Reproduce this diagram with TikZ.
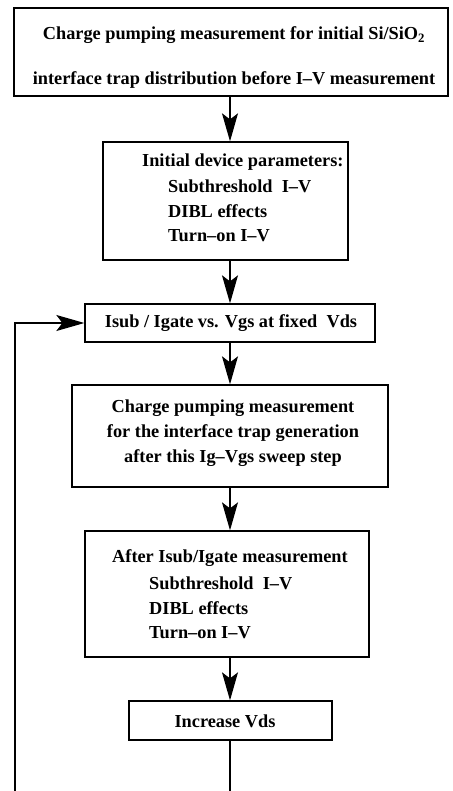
\documentclass[tikz,border=0pt]{standalone}
\usepackage{fontspec}
\setmainfont{Liberation Serif}
\usetikzlibrary{arrows.meta,calc}
\begin{document}
\begin{tikzpicture}[x=1pt,y=-1pt,
  box/.style={draw,line width=1.3pt,inner sep=0pt},
  lbl/.style={font=\bfseries\fontsize{18.3}{20}\selectfont,inner sep=0pt},
  arr/.style={line width=1.3pt,-{Stealth[length=28pt,width=16pt,inset=6pt]}},
  conn/.style={line width=1.3pt}]
\useasboundingbox[fill=white] (0,0) rectangle (452,791);
% boxes
\node[box,minimum width=434pt,minimum height=88pt] (b1) at (231,52) {};
\node[lbl] (b1a) at (234,35) {Charge pumping measurement for initial Si/SiO\textsubscript{2}};
\node[lbl] (b1b) at (234,80) {interface trap distribution before I--V measurement};
\node[box,minimum width=245pt,minimum height=118pt] (b2) at (225.5,201) {};
\node[lbl,anchor=west] (b2a) at (142,162) {Initial device parameters:};
\node[lbl,anchor=west] (b2b) at (168,186) {Subthreshold\ \ I--V};
\node[lbl,anchor=west] (b2c) at (168,211) {DIBL effects};
\node[lbl,anchor=west] (b2d) at (168,236) {Turn--on I--V};
\node[box,minimum width=290pt,minimum height=38pt] (b3) at (230,323) {};
\node[lbl] (b3a) at (231,323) {Isub / Igate vs. Vgs at fixed\ \ Vds};
\node[box,minimum width=316pt,minimum height=102pt] (b4) at (230,436) {};
\node[lbl] (b4a) at (233,408) {Charge pumping measurement};
\node[lbl] (b4b) at (233,433) {for the interface trap generation};
\node[lbl] (b4c) at (233,458) {after this Ig--Vgs sweep step};
\node[box,minimum width=284pt,minimum height=126pt] (b5) at (227,594) {};
\node[lbl,anchor=west] (b5a) at (112,558) {After Isub/Igate measurement};
\node[lbl,anchor=west] (b5b) at (149,583) {Subthreshold\ \ I--V};
\node[lbl,anchor=west] (b5c) at (149,608) {DIBL effects};
\node[lbl,anchor=west] (b5d) at (149,633) {Turn--on I--V};
\node[box,minimum width=203pt,minimum height=39pt] (b6) at (230.5,720.5) {};
\node[lbl] (b6a) at (225,721) {Increase Vds};
% connectors
\coordinate (fb) at (15,791);
\coordinate (bot) at (230,791);
\draw[arr] (b1.south -| b3) -- (b2.north -| b3);
\draw[arr] (b2.south -| b3) -- (b3.north);
\draw[arr] (b3.south) -- (b4.north -| b3);
\draw[arr] (b4.south -| b3) -- (b5.north -| b3);
\draw[arr] (b5.south -| b3) -- (b6.north -| b3);
\draw[conn] (b6.south -| b3) -- (bot);
\draw[arr] (fb) |- (b3.west);
\end{tikzpicture}
\end{document}
